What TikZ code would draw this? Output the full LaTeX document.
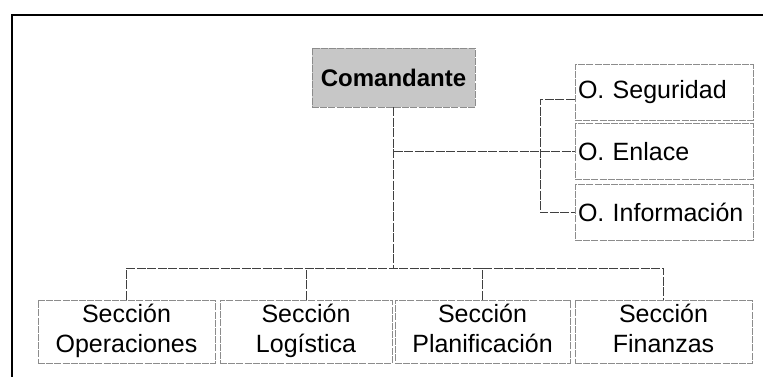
\documentclass[tikz,border=0pt]{standalone}
\usepackage{fontspec}
\setmainfont{Liberation Sans}
\begin{document}
\begin{tikzpicture}[x=1pt,y=-1pt,
  box/.style={draw=black!45, line width=0.9pt, dash pattern=on 7pt off 1.2pt, fill=white,
    inner sep=0pt, align=center, font=\fontsize{25}{30}\selectfont},
  combox/.style={box, fill=black!22, font=\fontsize{24}{28}\selectfont\bfseries},
  obox/.style={box, minimum width=178pt, minimum height=56pt, align=left,
    text width=172pt, inner xsep=3pt},
  sbox/.style={box, minimum height=63pt},
  link/.style={draw=black!75, line width=0.9pt, dash pattern=on 9pt off 1.5pt}]
\useasboundingbox (0,0) rectangle (763,376);
\draw[line width=2pt] (12,377) -- (12,14.5) -- (764,14.5);

\node[combox, minimum width=163pt, minimum height=59pt] (com) at (393.5,77.5) {Comandante};
\node[obox] (seg) at (664,92.5) {O. Seguridad};
\node[obox] (enl) at (664,151.5) {O. Enlace};
\node[obox] (inf) at (664,212.5) {O. Información};

\node[sbox, minimum width=177pt] (b1) at (126.5,331.5) {\strut Sección\\Operaciones\strut};
\node[sbox, minimum width=172pt] (b2) at (306,331.5) {\strut Sección\\Logística\strut};
\node[sbox, minimum width=175pt] (b3) at (482.5,331.5) {\strut Sección\\Planificación\strut};
\node[sbox, minimum width=177pt] (b4) at (663.5,331.5) {\strut Sección\\Finanzas\strut};

\coordinate (bus) at (392,268);
\coordinate (brk) at (540,150);

\draw[link] (com.south) -- (com.south |- bus);
\draw[link] (b1.north) |- (b4.north |- bus) -- (b4.north);
\draw[link] (b2.north) -- (b2.north |- bus);
\draw[link] (b3.north) -- (b3.north |- bus);
\draw[link] (com.south |- enl.west) -- (enl.west);
\draw[link] ([yshift=-7pt]seg.west) -| (brk |- inf.west) -- (inf.west);
\end{tikzpicture}
\end{document}
